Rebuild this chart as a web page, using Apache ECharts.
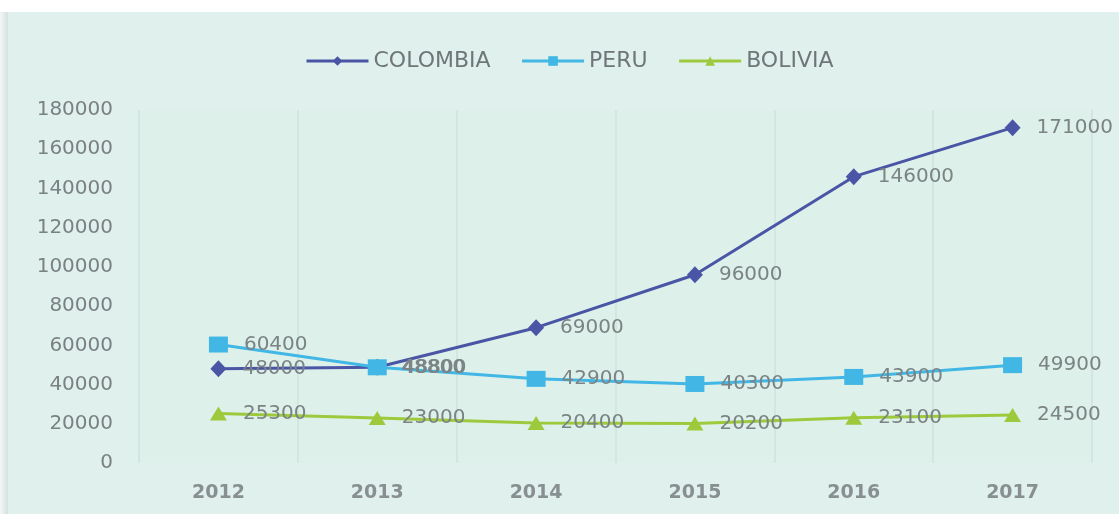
<!DOCTYPE html>
<html>
<head>
<meta charset="utf-8">
<script src="https://cdn.jsdelivr.net/npm/echarts@6/dist/echarts.min.js"></script>
<style>
  html, body { margin: 0; padding: 0; background: #ffffff; }
  #chart { width: 1119px; height: 514px; }
</style>
</head>
<body>
<div id="chart"></div>
<script>
// Years on the category axis
const years = ['2012', '2013', '2014', '2015', '2016', '2017'];

// Yearly values per country
const colombia = [48000, 48800, 69000, 96000, 146000, 171000];
const peru = [60400, 48800, 42900, 40300, 43900, 49900];
const bolivia = [25300, 23000, 20400, 20200, 23100, 24500];

// Value axis ticks
const yMin = 0;
const yMax = 180000;
const yStep = 20000;

const labelColor = '#7b8385';
const font = 'DejaVu Sans';

function lineSeries(name, data, color, symbol, size) {
  return {
    name: name,
    type: 'line',
    data: data,
    symbol: symbol,
    symbolSize: size,
    lineStyle: { color: color, width: 3 },
    itemStyle: { color: color },
    label: {
      show: true,
      position: 'right',
      distance: 16,
      color: labelColor,
      fontFamily: font,
      fontSize: 20
    },
    emphasis: { disabled: true },
    animation: false
  };
}

const chart = echarts.init(document.getElementById('chart'));
chart.setOption({
  backgroundColor: '#ffffff',
  graphic: [
    {
      type: 'rect', z: -10, silent: true,
      shape: { x: 0, y: 12, width: 8, height: 502 },
      style: {
        fill: new echarts.graphic.LinearGradient(0, 0, 1, 0, [
          { offset: 0, color: '#f4f7f7' },
          { offset: 1, color: '#d3e2df' }
        ])
      }
    },
    {
      type: 'rect', z: -10, silent: true,
      shape: { x: 8, y: 12, width: 1111, height: 502 },
      style: { fill: '#e0f0ec' }
    }
  ],
  legend: {
    left: 300,
    top: 45,
    itemWidth: 62,
    itemHeight: 12,
    itemGap: 30,
    lineStyle: { width: 3 },
    textStyle: { color: '#6e7678', fontFamily: font, fontSize: 22 },
    data: ['COLOMBIA', 'PERU', 'BOLIVIA']
  },
  grid: {
    left: 139,
    right: 27,
    top: 110,
    bottom: 51,
    show: true,
    backgroundColor: '#ddf1ea',
    borderWidth: 0
  },
  xAxis: {
    type: 'category',
    data: years,
    boundaryGap: true,
    axisLine: { show: false },
    axisTick: { show: false },
    axisLabel: {
      margin: 21,
      color: '#878f91',
      fontFamily: font,
      fontWeight: 'bold',
      fontSize: 19
    },
    splitLine: {
      show: true,
      lineStyle: { color: '#cfe2dd', width: 1.5 }
    }
  },
  yAxis: {
    type: 'value',
    min: yMin,
    max: yMax,
    interval: yStep,
    axisLine: { show: false },
    axisTick: { show: false },
    splitLine: { show: false },
    axisLabel: {
      margin: 26,
      color: '#7a8183',
      fontFamily: font,
      fontSize: 20,
      formatter: function (v) { return String(v); }
    }
  },
  series: [
    lineSeries('COLOMBIA', colombia, '#4a55a6', 'diamond', [16, 17]),
    lineSeries('PERU', peru, '#42b7e6', 'rect', [19, 16]),
    lineSeries('BOLIVIA', bolivia, '#9dca3c', 'triangle', [17, 14])
  ]
});
</script>
</body>
</html>
